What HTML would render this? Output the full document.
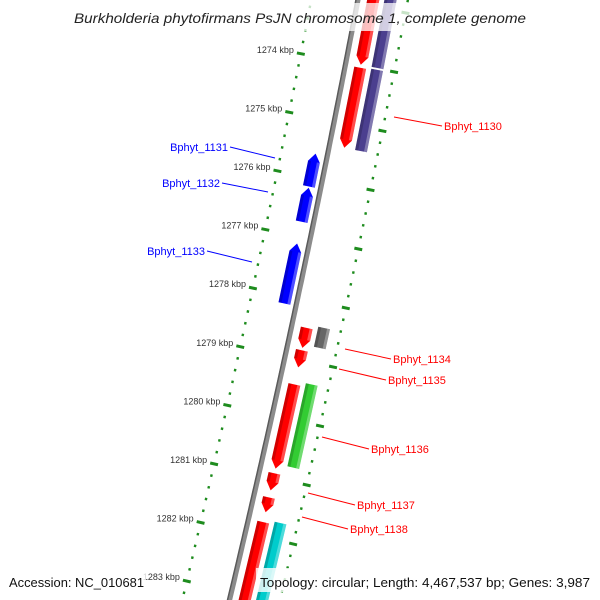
<!DOCTYPE html>
<html><head><meta charset="utf-8"><style>
html,body{margin:0;padding:0;background:#fff;overflow:hidden;width:600px;height:600px}
svg{display:block;font-family:"Liberation Sans",sans-serif}
</style></head><body>
<svg id="map" width="600" height="600" viewBox="0 0 600 600" xmlns="http://www.w3.org/2000/svg">
<g id="ticks"></g>
<path id="backbone" fill="none" stroke="#8c8c8c" stroke-width="5"/>
<path id="backbone2" fill="none" stroke="#5a5a5a" stroke-width="1.5"/>
<g id="genes"></g>
<g id="labels"></g>
<rect x="65" y="3" width="470" height="28" fill="#fff" opacity="0.75"/>
<text x="74" y="23" font-size="14" font-style="italic" fill="#222" textLength="452" lengthAdjust="spacingAndGlyphs">Burkholderia phytofirmans PsJN chromosome 1, complete genome</text>
<rect x="4" y="568" width="142" height="24" fill="#fff" opacity="0.8"/>
<text x="9" y="587" font-size="13" fill="#111" textLength="135" lengthAdjust="spacingAndGlyphs">Accession: NC_010681</text>
<rect x="256" y="568" width="338" height="24" fill="#fff" opacity="0.8"/>
<text x="260" y="587" font-size="13" fill="#111" textLength="330" lengthAdjust="spacingAndGlyphs">Topology: circular; Length: 4,467,537 bp; Genes: 3,987</text>
</svg>
<script>
var tickKbp=[1272,1273,1274,1275,1276,1277,1278,1279,1280,1281,1282,1283,1284,1285];
var tickLabels=["1272 kbp","1273 kbp","1274 kbp","1275 kbp","1276 kbp","1277 kbp","1278 kbp","1279 kbp","1280 kbp","1281 kbp","1282 kbp","1283 kbp","1284 kbp","1285 kbp"];
var geneStart=[1272.5,1274.04,1278.46,1278.84,1279.42,1280.93,1281.34,1281.76,1272.5,1274.02,1278.40,1279.36,1281.71,1275.59,1276.17,1277.12];
var geneEnd=[1273.99,1275.40,1278.80,1279.13,1280.85,1281.22,1281.59,1284.8,1273.99,1275.40,1278.74,1280.77,1284.8,1276.15,1276.75,1278.14];
var geneStrand=[1,1,1,1,1,1,1,1,0,0,0,0,0,-1,-1,-1];
var geneColor=["#ff0000","#ff0000","#ff0000","#ff0000","#ff0000","#ff0000","#ff0000","#ff0000","#4b3f8f","#4b3f8f","#666666","#33cc33","#00cccc","#0000ff","#0000ff","#0000ff"];
var labelNames=["Bphyt_1130","Bphyt_1131","Bphyt_1132","Bphyt_1133","Bphyt_1134","Bphyt_1135","Bphyt_1136","Bphyt_1137","Bphyt_1138"];
var labelSide=[1,-1,-1,-1,1,1,1,1,1];
// leader-line layout (pixel anchors)
var leadX1=[394,275,268,252,345,339,322,308,302],leadY1=[117,158,192,262,349,369,437,493,517];
var leadX2=[442,230,222,207,391,386,369,355,348],leadY2=[126,147,183,251,359,380,449,505,529];

var NS="http://www.w3.org/2000/svg";
function yOf(k){return 62.5+58.8*(k-1274);}
function bx(y){return 358-0.19*y-0.00004*y*y;}
function pt(k,o){var y=yOf(k);var s=-0.19-0.00008*y;var l=Math.sqrt(1+s*s);return [bx(y)+o/l,y-o*s/l];}
function mk(tag,attrs,parent){var e=document.createElementNS(NS,tag);for(var a in attrs)e.setAttribute(a,attrs[a]);parent.appendChild(e);return e;}
var tg=document.getElementById('ticks');
var d="";for(var k=1272.8;k<=1284.2;k+=0.1){var p=pt(k,0);d+=(d?"L":"M")+p[0].toFixed(1)+","+p[1].toFixed(1);}
document.getElementById('backbone').setAttribute('d',d);
var d2="";for(var k=1272.8;k<=1284.2;k+=0.1){var p=pt(k,-2);d2+=(d2?"L":"M")+p[0].toFixed(1)+","+p[1].toFixed(1);}
document.getElementById('backbone2').setAttribute('d',d2);
[-46,49].forEach(function(off,ri){
  for(var i=0;i<tickKbp.length-1;i++){
    for(var j=0;j<5;j++){
      var k=tickKbp[i]+j*0.2;var major=j===0;var h=major?4:1.2;
      var a=pt(k,off-h),b=pt(k,off+h);
      if(a[1]<-5||a[1]>605)continue;
      var ln=mk('line',{x1:a[0],y1:a[1],x2:b[0],y2:b[1],stroke:'#1e8c1e','stroke-width':major?3:2.5},tg);
      
      
      if(major&&ri===0){
        var t=mk('text',{x:a[0]-3,y:a[1],'text-anchor':'end','font-size':9,fill:'#333'},tg);
        t.textContent=tickLabels[i];
        
        
      }
    }
  }
});
var gg=document.getElementById('genes');
function poly(pts){return pts.map(function(p){return p[0].toFixed(1)+","+p[1].toFixed(1);}).join(" ");}
for(var i=0;i<geneStart.length;i++){
  var s=geneStrand[i];var o=s===1?15:(s===0?32:-12);var w=12,al=0.14;
  var k1=geneStart[i],k2=geneEnd[i];var pts;
  if(s===1){pts=[pt(k1,o-w/2),pt(k1,o+w/2),pt(k2-al,o+w/2),pt(k2,o),pt(k2-al,o-w/2)];}
  else if(s===-1){pts=[pt(k1+al,o-w/2),pt(k1,o),pt(k1+al,o+w/2),pt(k2,o+w/2),pt(k2,o-w/2)];}
  else{pts=[pt(k1,o-w/2),pt(k1,o+w/2),pt(k2,o+w/2),pt(k2,o-w/2)];}
  var g=mk('g',{},gg);
  
  
  mk('polygon',{points:poly(pts),fill:geneColor[i]},g);
  var ka=k1+(s===-1?al:0),kb=k2-(s===1?al:0);
  mk('polygon',{points:poly([pt(ka,o-w/2),pt(ka,o-w/2+3),pt(kb,o-w/2+3),pt(kb,o-w/2)]),fill:'#000',opacity:0.18},g);
  mk('polygon',{points:poly([pt(ka,o+w/2-3),pt(ka,o+w/2),pt(kb,o+w/2),pt(kb,o+w/2-3)]),fill:'#fff',opacity:0.3},g);
}
var lg=document.getElementById('labels');
for(var i=0;i<labelNames.length;i++){
  var col=labelSide[i]<0?'#0000ff':'#ff0000';
  var ln=mk('line',{x1:leadX1[i],y1:leadY1[i],x2:leadX2[i],y2:leadY2[i],stroke:col,'stroke-width':1},lg);
  
  
  var t=mk('text',{x:labelSide[i]>0?leadX2[i]+2:leadX2[i]-2,y:leadY2[i]+4,'text-anchor':labelSide[i]>0?'start':'end','font-size':11,fill:col},lg);
  t.textContent=labelNames[i];
  
  
}
</script>
</body></html>
